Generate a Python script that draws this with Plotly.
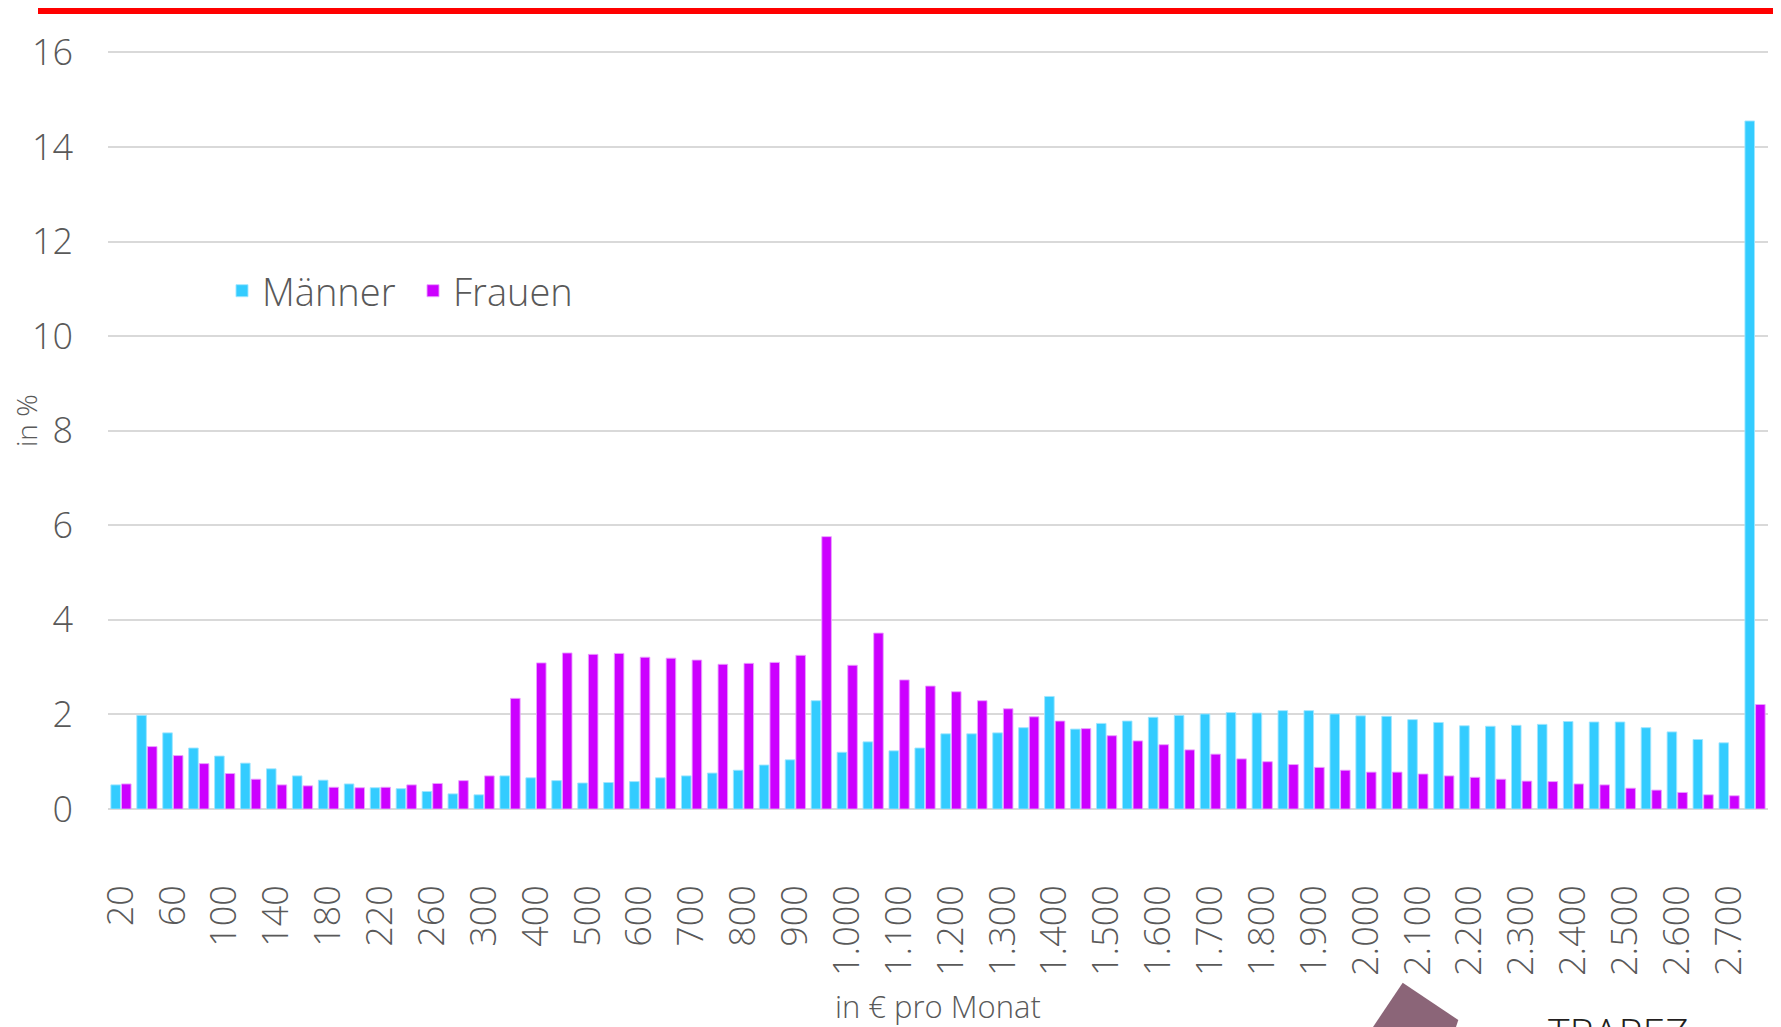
import plotly.graph_objects as go

categories = ["20", "40", "60", "80", "100", "120", "140", "160", "180", "200",
              "220", "240", "260", "280", "300", "350", "400", "450", "500", "550",
              "600", "650", "700", "750", "800", "850", "900", "950", "1.000", "1.050",
              "1.100", "1.150", "1.200", "1.250", "1.300", "1.350", "1.400", "1.450", "1.500", "1.550",
              "1.600", "1.650", "1.700", "1.750", "1.800", "1.850", "1.900", "1.950", "2.000", "2.050",
              "2.100", "2.150", "2.200", "2.250", "2.300", "2.350", "2.400", "2.450", "2.500", "2.550",
              "2.600", "2.650", "2.700", "2.750"]

maenner = [0.51, 1.98, 1.61, 1.29, 1.12, 0.97, 0.85, 0.70, 0.61, 0.53,
           0.45, 0.43, 0.37, 0.32, 0.30, 0.70, 0.66, 0.60, 0.55, 0.56,
           0.58, 0.66, 0.70, 0.76, 0.82, 0.93, 1.04, 2.29, 1.20, 1.42,
           1.23, 1.29, 1.59, 1.59, 1.61, 1.72, 2.38, 1.69, 1.81, 1.86,
           1.94, 1.98, 2.01, 2.04, 2.03, 2.08, 2.08, 2.01, 1.97, 1.96,
           1.89, 1.83, 1.76, 1.75, 1.77, 1.79, 1.85, 1.84, 1.84, 1.72,
           1.63, 1.47, 1.40, 14.55]

frauen = [0.53, 1.32, 1.13, 0.96, 0.75, 0.63, 0.51, 0.49, 0.46, 0.45,
          0.46, 0.51, 0.54, 0.60, 0.70, 2.34, 3.09, 3.30, 3.27, 3.29,
          3.21, 3.19, 3.15, 3.06, 3.08, 3.10, 3.25, 5.76, 3.04, 3.72,
          2.73, 2.60, 2.48, 2.29, 2.12, 1.95, 1.86, 1.70, 1.55, 1.44,
          1.36, 1.25, 1.16, 1.06, 1.00, 0.94, 0.88, 0.82, 0.78, 0.78,
          0.74, 0.70, 0.67, 0.63, 0.59, 0.58, 0.53, 0.51, 0.44, 0.40,
          0.35, 0.30, 0.28, 2.21]

y_ticks = [0, 2, 4, 6, 8, 10, 12, 14, 16]
x_tick_labels = categories[::2]

# page body has an 8px default margin; the figure starts at (8, 8)
OFF = 8
W, H = 1781 - OFF, 1027 - OFF
ML, MR, MT, MB = 108 - OFF, 13, 51 - OFF, 1027 - 809
PW, PH = W - ML - MR, H - MT - MB


def px(xp):
    return (xp - OFF - ML) / PW


def py(yp):
    return (H - MB - (yp - OFF)) / PH


FONT = "Open Sans"
GREY = "#595959"

fig = go.Figure()
fig.add_trace(go.Bar(
    x=categories, y=maenner, name="Männer",
    marker=dict(color="#33CCFF", line=dict(color="rgba(160,230,255,0.9)", width=1)),
))
fig.add_trace(go.Bar(
    x=categories, y=frauen, name="Frauen",
    marker=dict(color="#CC00FF", line=dict(color="rgba(235,160,255,0.9)", width=1)),
))

fig.update_layout(
    width=W, height=H,
    margin=dict(l=ML, r=MR, t=MT, b=MB, pad=0),
    paper_bgcolor="white", plot_bgcolor="white",
    barmode="group", bargap=0.18, bargroupgap=0.1,
    font=dict(family=FONT, color=GREY, weight=300),
    legend=dict(
        orientation="h", x=px(222), y=py(291), xanchor="left", yanchor="middle",
        font=dict(family=FONT, size=38, color=GREY, weight=300),
        bgcolor="rgba(0,0,0,0)", itemwidth=30, traceorder="normal",
        entrywidth=146, entrywidthmode="pixels",
    ),
    xaxis=dict(
        type="category", categoryorder="array", categoryarray=categories,
        tickmode="array", tickvals=x_tick_labels, ticktext=x_tick_labels,
        tickangle=-90, ticks="", showgrid=False, showline=False,
        tickfont=dict(family=FONT, size=36, color=GREY, weight=300),
        ticklabelstandoff=68,
    ),
    yaxis=dict(
        range=[0, 16.03], tickmode="array", tickvals=y_ticks,
        showgrid=True, gridcolor="#d9d9d9", gridwidth=2,
        zeroline=True, zerolinecolor="#d9d9d9", zerolinewidth=2,
        showline=False, ticks="",
        tickfont=dict(family=FONT, size=36, color=GREY, weight=300),
        ticklabelstandoff=34,
    ),
    shapes=[
        dict(type="line", xref="paper", yref="paper",
             x0=px(38), x1=px(1781), y0=py(11), y1=py(11),
             line=dict(color="#FF0000", width=6)),
        dict(type="path", xref="paper", yref="paper",
             path=(f"M {px(1402.7)},{py(982.7)} L {px(1458.3)},{py(1020)} "
                   f"L {px(1455)},{py(1030)} L {px(1371)},{py(1030)} Z"),
             fillcolor="#8B6578", line=dict(width=0)),
    ],
    annotations=[
        dict(text="in %", xref="paper", yref="paper", x=px(26), y=py(421),
             textangle=-90, showarrow=False, xanchor="center", yanchor="middle",
             font=dict(family=FONT, size=28, color=GREY, weight=300)),
        dict(text="in € pro Monat", xref="paper", yref="paper", x=px(938), y=py(1006),
             showarrow=False, xanchor="center", yanchor="middle",
             font=dict(family=FONT, size=31, color=GREY, weight=300)),
        dict(text="TRAPEZ", xref="paper", yref="paper", x=px(1546), y=py(1002),
             showarrow=False, xanchor="left", yanchor="top",
             font=dict(family=FONT, size=41, color="#231F20")),
    ],
)

fig.write_html("out.html")
